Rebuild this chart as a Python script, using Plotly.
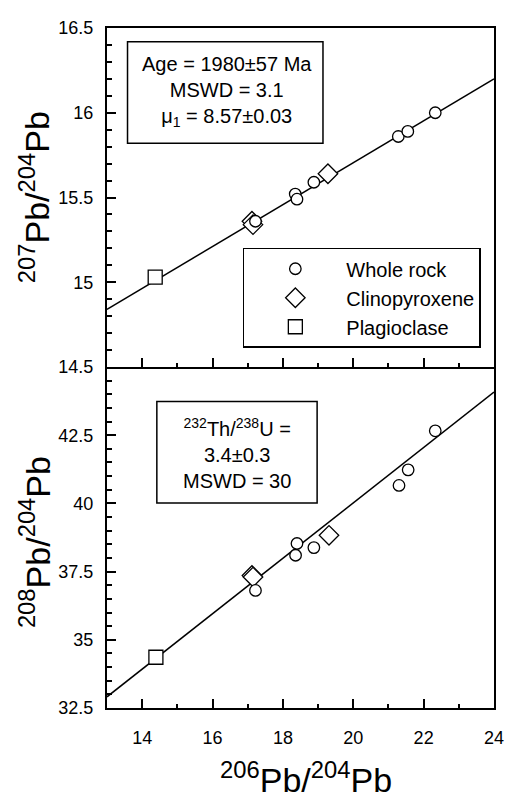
import plotly.graph_objects as go

# ---------------- data ----------------
wr_x_top = [17.22, 18.35, 18.40, 18.88, 21.28, 21.55, 22.33]
wr_y_top = [15.36, 15.52, 15.49, 15.59, 15.86, 15.89, 16.00]
cpx_x_top = [17.12, 17.15, 19.28]
cpx_y_top = [15.36, 15.34, 15.64]
pl_x_top = [14.37]
pl_y_top = [15.03]

wr_x_bot = [17.22, 18.40, 18.36, 18.88, 21.30, 21.56, 22.33]
wr_y_bot = [36.81, 38.53, 38.10, 38.38, 40.66, 41.23, 42.66]
cpx_x_bot = [17.12, 17.15, 19.31]
cpx_y_bot = [37.36, 37.30, 38.83]
pl_x_bot = [14.39]
pl_y_bot = [34.36]

line_x = [13, 24]
line_y_top = [14.84, 16.20]
line_y_bot = [32.91, 44.08]

x_ticks = [14, 16, 18, 20, 22, 24]
y_ticks_top = [14.5, 15, 15.5, 16, 16.5]
y_tick_text_top = ["14.5", "15", "15.5", "16", "16.5"]
y_ticks_bot = [32.5, 35, 37.5, 40, 42.5]
y_tick_text_bot = ["32.5", "35", "37.5", "40", "42.5"]

top_box_text = "Age = 1980±57 Ma<br>MSWD = 3.1<br>μ<sub>1</sub> = 8.57±0.03"
bot_box_text = "<sup>232</sup>Th/<sup>238</sup>U =<br>3.4±0.3<br>MSWD = 30"
names = ["Whole rock", "Clinopyroxene", "Plagioclase"]

# ---------------- layout geometry (window pixels) ----------------
OFF = 8  # page body margin
WIN_W, WIN_H = 514, 801
W, H = WIN_W - OFF, WIN_H - OFF
L, R, T, B = 107, 503, 18, 708
DIV = 362
FONT = "Liberation Sans, Arial, sans-serif"


def pxx(px):
    return (px - L) / (R - L)


def pxy(py):
    return (B - py) / (B - T)


split = pxy(DIV)

fig = go.Figure()

mk_line = dict(color="black", width=1.3)

# top panel
fig.add_trace(go.Scatter(x=line_x, y=line_y_top, mode="lines", line=dict(color="black", width=1.5),
                         showlegend=False, xaxis="x2", yaxis="y2", hoverinfo="skip"))
fig.add_trace(go.Scatter(x=pl_x_top, y=pl_y_top, mode="markers", name=names[2], legendrank=3,
                         marker=dict(symbol="square", size=14, color="white", line=mk_line),
                         xaxis="x2", yaxis="y2"))
fig.add_trace(go.Scatter(x=cpx_x_top, y=cpx_y_top, mode="markers", name=names[1], legendrank=2,
                         marker=dict(symbol="diamond", size=15, color="white", line=mk_line),
                         xaxis="x2", yaxis="y2"))
fig.add_trace(go.Scatter(x=wr_x_top, y=wr_y_top, mode="markers", name=names[0], legendrank=1,
                         marker=dict(symbol="circle", size=11.5, color="white", line=mk_line),
                         xaxis="x2", yaxis="y2"))

# bottom panel
fig.add_trace(go.Scatter(x=line_x, y=line_y_bot, mode="lines", line=dict(color="black", width=1.5),
                         showlegend=False, xaxis="x", yaxis="y", hoverinfo="skip"))
fig.add_trace(go.Scatter(x=pl_x_bot, y=pl_y_bot, mode="markers", showlegend=False,
                         marker=dict(symbol="square", size=14, color="white", line=mk_line),
                         xaxis="x", yaxis="y"))
fig.add_trace(go.Scatter(x=cpx_x_bot, y=cpx_y_bot, mode="markers", showlegend=False,
                         marker=dict(symbol="diamond", size=15, color="white", line=mk_line),
                         xaxis="x", yaxis="y"))
fig.add_trace(go.Scatter(x=wr_x_bot, y=wr_y_bot, mode="markers", showlegend=False,
                         marker=dict(symbol="circle", size=11.5, color="white", line=mk_line),
                         xaxis="x", yaxis="y"))

axis_common = dict(showgrid=False, zeroline=False, showline=True, linecolor="black", linewidth=2,
                   ticks="inside", tickcolor="black", tickwidth=1.5,
                   tickfont=dict(family=FONT, size=18, color="black"))
xminor = dict(dtick=1, tick0=13, ticks="inside", ticklen=4, tickcolor="black", tickwidth=1.5)

fig.update_layout(
    width=W, height=H,
    margin=dict(l=L - OFF, r=WIN_W - R, t=T - OFF, b=WIN_H - B),
    paper_bgcolor="white", plot_bgcolor="white",
    font=dict(family=FONT, color="black"),
    xaxis=dict(range=[13, 24], tickvals=x_ticks, ticklen=9, ticklabelstandoff=12, mirror=False,
               minor=xminor, anchor="y", **axis_common),
    xaxis2=dict(range=[13, 24], tickvals=x_ticks, ticklen=9, showticklabels=False, mirror=True,
                minor=xminor, anchor="y2", matches="x", **axis_common),
    yaxis=dict(range=[32.5, 45], domain=[0, split], tickvals=y_ticks_bot, ticktext=y_tick_text_bot,
               ticklen=9, ticklabelstandoff=8, anchor="x", mirror=True,
               minor=dict(dtick=0.5, tick0=32.5, ticks="inside", ticklen=5, tickcolor="black", tickwidth=1.5),
               **axis_common),
    yaxis2=dict(range=[14.5, 16.5], domain=[split, 1], tickvals=y_ticks_top, ticktext=y_tick_text_top,
                ticklen=9, ticklabelstandoff=8, anchor="x2", mirror=True,
                minor=dict(dtick=0.1, tick0=14.5, ticks="inside", ticklen=5, tickcolor="black", tickwidth=1.5),
                **axis_common),
    legend=dict(x=pxx(246), y=pxy(241), xanchor="left", yanchor="top",
                bordercolor="black", borderwidth=1.5, bgcolor="white",
                font=dict(family=FONT, size=20, color="black"),
                itemwidth=92, tracegroupgap=0, traceorder="normal",
                itemclick=False, itemdoubleclick=False),
    showlegend=True,
)

shapes = [
    dict(type="rect", xref="paper", yref="paper", x0=pxx(128), x1=pxx(328), y0=pxy(32), y1=pxy(135),
         line=dict(color="black", width=1.5), fillcolor="rgba(0,0,0,0)"),
    dict(type="rect", xref="paper", yref="paper", x0=pxx(158), x1=pxx(322), y0=pxy(397), y1=pxy(500),
         line=dict(color="black", width=1.5), fillcolor="rgba(0,0,0,0)"),
]
fig.update_layout(shapes=shapes)

annotations = [
    dict(text=top_box_text, xref="paper", yref="paper", x=pxx(230), y=pxy(82), showarrow=False,
         xanchor="center", yanchor="middle", align="center", font=dict(family=FONT, size=20, color="black")),
    dict(text=bot_box_text, xref="paper", yref="paper", x=pxx(240), y=pxy(450), showarrow=False,
         xanchor="center", yanchor="middle", align="center", font=dict(family=FONT, size=20, color="black")),
    dict(text="<sup>207</sup>Pb/<sup>204</sup>Pb", xref="paper", yref="paper", x=pxx(33), y=pxy(190),
         showarrow=False, textangle=-90, xanchor="center", yanchor="middle",
         font=dict(family=FONT, size=34, color="black")),
    dict(text="<sup>208</sup>Pb/<sup>204</sup>Pb", xref="paper", yref="paper", x=pxx(33), y=pxy(540),
         showarrow=False, textangle=-90, xanchor="center", yanchor="middle",
         font=dict(family=FONT, size=34, color="black")),
    dict(text="<sup>206</sup>Pb/<sup>204</sup>Pb", xref="paper", yref="paper", x=pxx(311), y=pxy(802),
         showarrow=False, xanchor="center", yanchor="bottom",
         font=dict(family=FONT, size=34, color="black")),
]
fig.update_layout(annotations=annotations)

fig.write_html("out.html")
